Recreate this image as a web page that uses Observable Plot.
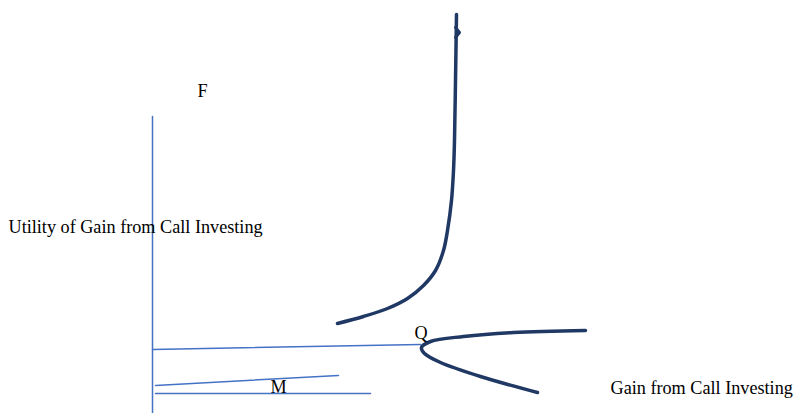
<!DOCTYPE html>
<html><head><meta charset="utf-8">
<script src="https://cdn.jsdelivr.net/npm/d3@7"></script>
<script src="https://cdn.jsdelivr.net/npm/@observablehq/plot@0.6"></script>
<style>body{margin:0;background:#fff}</style>
</head><body><div id="chart"></div>
<script>
// Diagram coordinates (x to the right, y downward)
const axisLine = [{x:152,y:116},{x:152,y:412}];
const lineQ = [{x:152,y:349},{x:420,y:344}];
const lineUpper = [{x:155,y:385},{x:338,y:375}];
const lineLower = [{x:155,y:393},{x:370,y:393}];
const bigCurve = [
  {x:337,y:323},{x:363,y:316},{x:387,y:308},{x:407,y:298},{x:423,y:285},
  {x:435,y:270},{x:443,y:250},{x:447,y:230},{x:451,y:200},{x:453,y:170},
  {x:454,y:140},{x:455,y:80},{x:456,y:14}
];
const arrowBarb = [{x:455,y:27},{x:459,y:32},{x:455,y:37}];
const branchCurve = [
  {x:585,y:330},{x:513,y:332},{x:463,y:336},{x:430,y:341},{x:421,y:347},
  {x:424,y:353},{x:440,y:362},{x:480,y:376},{x:537,y:392}
];
const labels = [
  {x:197,y:96,text:"F"},
  {x:8,y:232,text:"Utility of Gain from Call Investing"},
  {x:414,y:338,text:"Q"},
  {x:270,y:392,text:"M"},
  {x:610,y:393,text:"Gain from Call Investing"}
];
const thin = "#4472c4", thick = "#203864";
const chart = Plot.plot({
  width:795, height:413, margin:0,
  x:{domain:[0,795], range:[0,795], axis:null},
  y:{domain:[0,413], range:[0,413], axis:null},
  style:{fontFamily:"'Liberation Serif', serif", background:"#fff"},
  marks:[
    Plot.line(axisLine,{x:"x",y:"y",stroke:thin,strokeWidth:1.5}),
    Plot.line(lineQ,{x:"x",y:"y",stroke:thin,strokeWidth:1.5}),
    Plot.line(lineUpper,{x:"x",y:"y",stroke:thin,strokeWidth:1.5}),
    Plot.line(lineLower,{x:"x",y:"y",stroke:thin,strokeWidth:1.5}),
    Plot.line(bigCurve,{x:"x",y:"y",stroke:thick,strokeWidth:3.5,curve:"catmull-rom",strokeLinecap:"round"}),
    Plot.line(arrowBarb,{x:"x",y:"y",stroke:thick,strokeWidth:3,fill:thick}),
    Plot.line(branchCurve,{x:"x",y:"y",stroke:thick,strokeWidth:3.5,curve:"catmull-rom"}),
    Plot.text(labels,{x:"x",y:"y",text:"text",textAnchor:"start",lineAnchor:"bottom",fontSize:18.2,fill:"#000"})
  ]
});
document.getElementById("chart").append(chart);
</script></body></html>
